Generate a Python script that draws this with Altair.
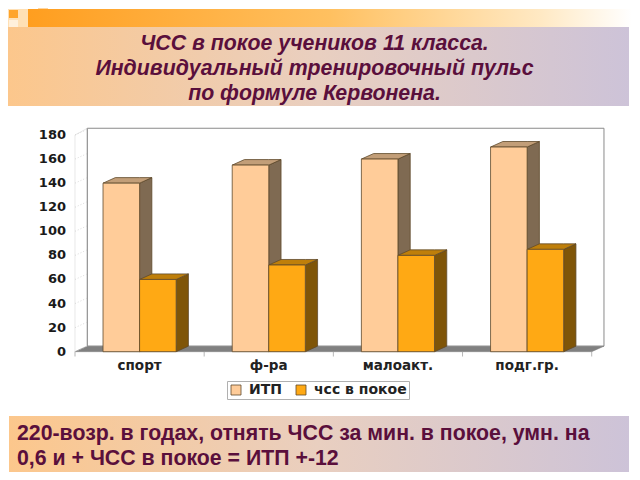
import altair as alt
import pandas as pd

categories = ["спорт", "ф-ра", "малоакт.", "подг.гр."]
series_names = ["ИТП", "чсс в покое"]
itp_values = [140, 155, 160, 170]
rest_values = [60, 72, 80, 85]
y_ticks = [0, 20, 40, 60, 80, 100, 120, 140, 160, 180]
title_lines = ["ЧСС в покое учеников 11 класса.", "Индивидуальный тренировочный пульс", "по формуле Кервонена."]
note_lines = ["220-возр. в годах, отнять ЧСС за мин. в покое, умн. на", "0,6 и + ЧСС в покое = ИТП +-12"]

W, H = 624, 464
DX, DY = 0.095, 4.6
BAR = 0.283
FRONT = ["#FFCC99", "#FFA914"]
SIDE = ["#7F6A52", "#7F5508"]
TOP = ["#C29E78", "#BF7F0A"]
EDGE = "#5f4a2c"
INK = "#5A0F3C"

xscale = alt.Scale(domain=[0, 4], range=[67, 583.7])
xs = alt.X("x:Q", scale=xscale, axis=None)
ys = alt.Y("y:Q", scale=alt.Scale(domain=[0, 180], range=[343.7, 127]), axis=None)

# 3D side and top faces
faces, fronts = [], []
for s, vals in enumerate([itp_values, rest_values]):
    for c, v in enumerate(vals):
        xl = c + 0.5 - BAR + s * BAR
        xr = xl + BAR
        fid = f"{s}-{c}"
        for px, py, py2 in [(xr, 0, v), (xr + DX, DY, v + DY)]:
            faces.append(dict(face=fid + "side", x=px, y=py, y2=py2, col=SIDE[s]))
        for px, py, py2 in [(xl, v, v), (xl + DX, v, v + DY), (xr, v, v + DY), (xr + DX, v + DY, v + DY)]:
            faces.append(dict(face=fid + "top", x=px, y=py, y2=py2, col=TOP[s]))
        fronts.append(dict(x=xl, x2=xr, y=0, y2=v, series=series_names[s]))
faces = pd.DataFrame(faces)
fronts = pd.DataFrame(fronts)

face_layer = alt.Chart(faces).mark_area(stroke=EDGE, strokeWidth=0.8, interpolate="linear").encode(
    x=xs, y=ys, y2="y2:Q", detail="face:N", fill=alt.Fill("col:N", scale=None, legend=None))

front_layer = alt.Chart(fronts).mark_rect(stroke=EDGE, strokeWidth=0.8).encode(
    x=xs, x2="x2:Q", y=ys, y2="y2:Q",
    fill=alt.Fill("series:N", scale=alt.Scale(domain=series_names, range=FRONT),
                  legend=alt.Legend(title=None, orient="none", legendX=219, legendY=373, direction="horizontal",
                                    symbolType="square", symbolSize=100, symbolStrokeColor=EDGE, symbolStrokeWidth=0.8,
                                    labelFont="DejaVu Sans", labelFontWeight="bold", labelFontSize=14, labelColor="#222",
                                    strokeColor="#b0b0b0", fillColor="white", padding=2, columnPadding=12,
                                    labelOffset=6)))

# walls and floor
wall = alt.Chart(pd.DataFrame({"x": [DX, 4 + DX], "y": [DY, DY], "y2": [185.6, 185.6]})).mark_area(
    fill="white", stroke="#8a8a8a", strokeWidth=1).encode(x=xs, y=ys, y2="y2:Q")
side_wall = alt.Chart(pd.DataFrame({"x": [0, DX], "y": [0, DY], "y2": [180, 185.6]})).mark_area(
    fill="white", stroke="#d8d8d8", strokeWidth=0.6).encode(x=xs, y=ys, y2="y2:Q")
wall_left = alt.Chart(pd.DataFrame({"x": [DX], "x2": [DX], "y": [DY], "y2": [185.6]})).mark_rule(
    color="#8a8a8a", strokeWidth=1).encode(x=xs, y=ys, y2="y2:Q")
floor = alt.Chart(pd.DataFrame({"x": [0, DX, 4, 4 + DX], "y": [0, 0, 0, DY], "y2": [0, DY, DY, DY]})).mark_area(
    fill="#808080", stroke="#808080", strokeWidth=0.5).encode(x=xs, y=ys, y2="y2:Q")
grid_df = pd.DataFrame({"x": [0.0] * 10, "x2": [DX] * 10, "y": y_ticks, "y2": [t + DY for t in y_ticks]})
grid = alt.Chart(grid_df).mark_rule(color="#c8c8c8", strokeWidth=0.7, strokeDash=[1, 2]).encode(
    x=xs, x2="x2:Q", y=ys, y2="y2:Q")

# axes
y_axis = alt.Chart(pd.DataFrame({"y": y_ticks, "x": [0] * 10})).mark_text(
    align="right", baseline="middle", font="DejaVu Sans", fontWeight="bold", fontSize=13, color="#1a1a1a", dx=-9
).encode(x=xs, y=ys, text="y:Q")
x_ticks = alt.Chart(pd.DataFrame({"x": [0, 1, 2, 3, 4]})).mark_tick(color="#999999", thickness=1, size=5).encode(
    x=xs, y=alt.value(346))
x_labels = alt.Chart(pd.DataFrame({"x": [0.5, 1.5, 2.5, 3.5], "t": categories})).mark_text(
    font="DejaVu Sans", fontWeight="bold", fontSize=13.5, color="#222", baseline="middle"
).encode(x=xs, y=alt.value(358), text="t:N")

# banners
def grad(stops):
    return alt.LinearGradient(gradient="linear", x1=0, x2=1, y1=0, y2=0,
                              stops=[alt.GradientStop(color=c, offset=o) for c, o in stops])

def box(fill, a, b, d, e):
    return alt.Chart(pd.DataFrame({"k": [0]})).mark_rect(fill=fill).encode(
        x=alt.value(a), x2=alt.value(b), y=alt.value(d), y2=alt.value(e))

band_stops = [("#FCC78C", 0), ("#E9CFC0", 0.5), ("#CDC3D8", 1)]
top_bar = box(grad([("#FF9E1F", 0), ("#FFC060", 0.5), ("#FFE9C4", 0.85), ("#FFFFFF", 1)]), 20, W, 1, 19)
title_band = box(grad(band_stops), 0, 621, 19, 98)
note_band = box(grad(band_stops), 1, 621, 408, 464)
squares = [box("#FFE0B5", 0, 20, 1, 19), box("#FFA42A", 1, 10, 2, 10), box("#FFF0DC", 1, 10, 12, 19),
           box("#FFD6A0", 30, 40, 0, 1)]

def text_layer(lines, x0, y0, step, **kw):
    out = []
    for i, line in enumerate(lines):
        out.append(alt.Chart(pd.DataFrame({"t": [line]})).mark_text(**kw).encode(
            x=alt.value(x0), y=alt.value(y0 + i * step), text="t:N"))
    return out

title_text = text_layer(title_lines, 306.5, 36, 25, font="Liberation Sans", fontWeight="bold", fontStyle="italic",
                        fontSize=21.3, color=INK, align="center", baseline="middle")
note_text = text_layer(note_lines, 9, 426, 25, font="Liberation Sans", fontWeight="bold",
                       fontSize=21.3, color=INK, align="left", baseline="middle")

chart = alt.layer(
    top_bar, title_band, note_band, *squares,
    wall, side_wall, wall_left, floor, grid, x_ticks,
    face_layer, front_layer,
    y_axis, x_labels, *title_text, *note_text,
).resolve_scale(fill="independent").properties(
    width=W, height=H, padding=0, autosize=alt.AutoSizeParams(type="none"), background="white"
).configure_view(stroke=None)

chart.save("out.html", embed_options={"renderer": "svg", "actions": False})
